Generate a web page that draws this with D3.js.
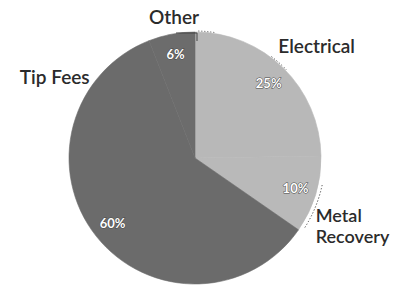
<!DOCTYPE html>
<html><head><meta charset="utf-8">
<script src="https://cdn.jsdelivr.net/npm/d3@7"></script>
<style>body{margin:0;background:#fff}svg{display:block}</style>
</head><body>
<script>
const categories = ["Electrical", "Metal Recovery", "Tip Fees", "Other"];
const values = [25, 10, 60, 6];
const pctLabels = ["25%", "10%", "60%", "6%"];
const colors = ["#b8b8b8", "#b9b9b9", "#6b6b6b", "#6c6c6c"];

const W = 412, H = 290, cx = 195, cy = 158, R = 126;
const svg = d3.select("body").append("svg").attr("width", W).attr("height", H);
const g = svg.append("g").attr("transform", `translate(${cx},${cy})`);

const data = categories.map((c, i) => ({cat: c, value: values[i], pct: pctLabels[i], color: colors[i]}));
const pie = d3.pie().value(d => d.value).sort(null);
const arcs = pie(data);
const arc = d3.arc().innerRadius(0).outerRadius(R);
const labelArc = d3.arc().innerRadius(105).outerRadius(105);

g.selectAll("path.slice").data(arcs).join("path").attr("class", "slice")
  .attr("d", arc).attr("fill", d => d.data.color)
  .attr("stroke", d => d.data.color).attr("stroke-width", 0.6);

g.selectAll("text.pct").data(arcs).join("text").attr("class", "pct")
  .attr("transform", d => `translate(${labelArc.centroid(d)})`)
  .attr("text-anchor", "middle").attr("dy", "0.35em")
  .attr("font-family", "Lato, sans-serif").attr("font-weight", "bold").attr("font-size", 13)
  .attr("fill", "#fff").attr("stroke", "#4a4a4a").attr("stroke-width", 1).attr("paint-order", "stroke")
  .text(d => d.data.pct);

// outer label layout (angle/radius around the pie centre)
const outer = {
  "Electrical":     {ang: 47.5, r: 165, anchor: "middle", lines: ["Electrical"], fs: 19},
  "Metal Recovery": {ang: 113.5, r: 172, anchor: "start", dx: -37, lines: ["Metal", "Recovery"], fs: 18},
  "Tip Fees":       {ang: 300, r: 162, anchor: "middle", lines: ["Tip Fees"], fs: 19},
  "Other":          {ang: 351.5, r: 142, anchor: "middle", lines: ["Other"], fs: 19}
};
arcs.forEach(d => {
  const o = outer[d.data.cat];
  const a = o.ang * Math.PI / 180;
  const x = Math.sin(a) * o.r + (o.dx || 0), y = -Math.cos(a) * o.r;
  const n = o.lines.length;
  o.lines.forEach((ln, i) => {
    g.append("text").attr("text-anchor", o.anchor)
      .attr("font-family", "Lato, sans-serif").attr("font-weight", 600).attr("font-size", o.fs)
      .attr("fill", "#2b2b2b")
      .attr("x", x).attr("y", y + (i - (n - 1) / 2) * 21).attr("dy", "0.35em").text(ln);
  });
});

// dotted callout arcs along the rim
function rimArc(a0deg, a1deg, r) {
  const p = d3.path();
  p.arc(0, 0, r, (a0deg - 90) * Math.PI / 180, (a1deg - 90) * Math.PI / 180);
  return p.toString();
}
const lead = g.append("g").attr("fill", "none").attr("stroke", "#444").attr("stroke-width", 1);
lead.append("path").attr("stroke-dasharray", "1.2,2").attr("d", rimArc(37, 46, R + 1));
lead.append("path").attr("stroke-dasharray", "1.2,2").attr("d", rimArc(102, 123, R + 4));
lead.append("path").attr("stroke-dasharray", "1,2").attr("d", rimArc(1.5, 9, R + 1));
lead.append("path").attr("d", `M-19,${-R + 1}H2V${-R + 9}`);
</script>
</body></html>
